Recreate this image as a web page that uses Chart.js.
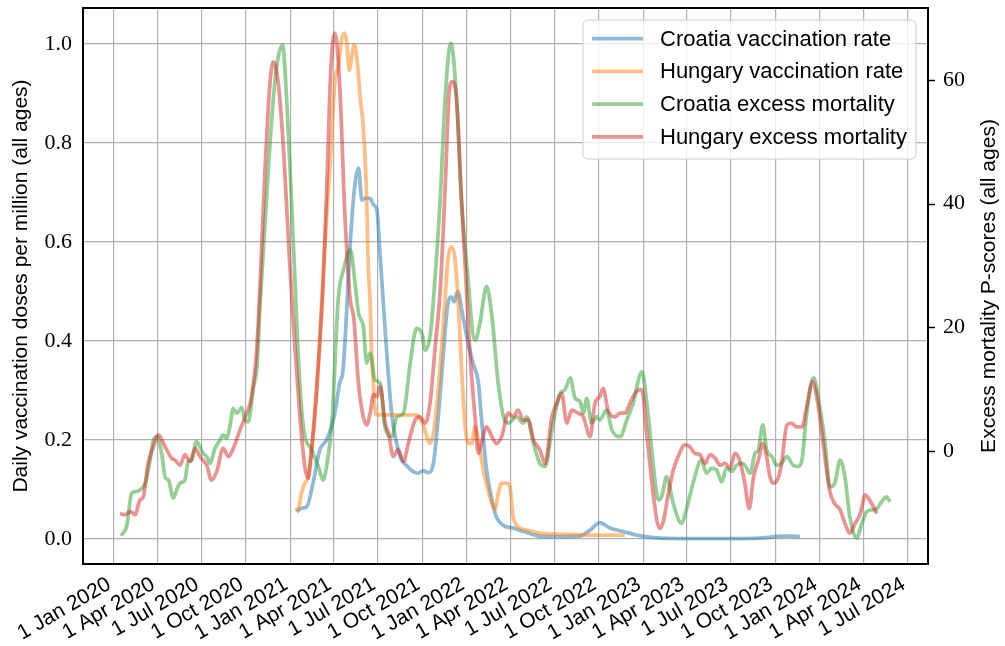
<!DOCTYPE html>
<html><head><meta charset="utf-8">
<script src="https://cdn.jsdelivr.net/npm/chart.js@4/dist/chart.umd.min.js"></script>
<style>html,body{margin:0;padding:0;background:#fff}#wrap{width:1005px;height:646px}</style>
</head><body><div id="wrap"><canvas id="c" width="1005" height="646"></canvas></div>
<script>
// ---------- data ----------
const tickDates = ['2020-01-01','2020-04-01','2020-07-01','2020-10-01','2021-01-01','2021-04-01','2021-07-01','2021-10-01','2022-01-01','2022-04-01','2022-07-01','2022-10-01','2023-01-01','2023-04-01','2023-07-01','2023-10-01','2024-01-01','2024-04-01','2024-07-01'];
const tickLabels = ['1 Jan 2020','1 Apr 2020','1 Jul 2020','1 Oct 2020','1 Jan 2021','1 Apr 2021','1 Jul 2021','1 Oct 2021','1 Jan 2022','1 Apr 2022','1 Jul 2022','1 Oct 2022','1 Jan 2023','1 Apr 2023','1 Jul 2023','1 Oct 2023','1 Jan 2024','1 Apr 2024','1 Jul 2024'];
const leftTicks = [0, 0.2, 0.4, 0.6, 0.8, 1.0];
const rightTicks = [0, 20, 40, 60];
const seriesNames = ['Croatia vaccination rate','Hungary vaccination rate','Croatia excess mortality','Hungary excess mortality'];

const hrVaxDates = ['2021-01-14','2021-01-24','2021-02-04','2021-02-17','2021-03-03','2021-03-17','2021-03-28','2021-04-03','2021-04-13','2021-04-20','2021-04-27','2021-05-04','2021-05-15','2021-05-22','2021-05-29','2021-06-04','2021-06-15','2021-06-22','2021-06-29','2021-07-06','2021-07-12','2021-07-19','2021-07-30','2021-08-09','2021-08-19','2021-08-29','2021-09-12','2021-09-22','2021-10-03','2021-10-13','2021-10-24','2021-11-03','2021-11-13','2021-11-23','2021-11-30','2021-12-06','2021-12-13','2021-12-24','2022-01-04','2022-01-14','2022-01-25','2022-01-31','2022-02-11','2022-02-22','2022-03-03','2022-03-17','2022-04-07','2022-05-05','2022-06-01','2022-07-13','2022-08-23','2022-09-13','2022-10-03','2022-10-24','2022-11-21','2022-12-18','2023-01-22','2023-04-07','2023-07-20','2023-09-13','2023-10-10','2023-10-31','2023-11-21'];
const hrVaxValues = [0.055,0.062,0.065,0.113,0.180,0.200,0.230,0.254,0.315,0.341,0.449,0.584,0.719,0.749,0.685,0.688,0.688,0.675,0.665,0.570,0.483,0.382,0.250,0.193,0.160,0.149,0.136,0.133,0.138,0.134,0.153,0.247,0.368,0.476,0.489,0.479,0.500,0.449,0.395,0.355,0.315,0.247,0.139,0.079,0.045,0.028,0.022,0.013,0.006,0.005,0.006,0.018,0.033,0.022,0.015,0.008,0.003,0.001,0.001,0.003,0.006,0.006,0.005];

const huVaxDates = ['2021-01-11','2021-01-18','2021-01-24','2021-01-31','2021-02-07','2021-02-14','2021-02-21','2021-02-28','2021-03-07','2021-03-17','2021-03-24','2021-04-03','2021-04-10','2021-04-17','2021-04-23','2021-04-28','2021-05-03','2021-05-08','2021-05-13','2021-05-19','2021-05-26','2021-06-01','2021-06-08','2021-06-11','2021-06-15','2021-06-18','2021-06-22','2021-06-27','2021-07-19','2021-08-23','2021-09-19','2021-10-03','2021-10-17','2021-10-27','2021-11-07','2021-11-17','2021-11-23','2021-11-30','2021-12-07','2021-12-14','2021-12-21','2021-12-28','2022-01-04','2022-01-11','2022-01-18','2022-01-28','2022-02-07','2022-02-22','2022-02-28','2022-03-07','2022-03-14','2022-03-24','2022-03-31','2022-04-07','2022-04-17','2022-05-05','2022-06-01','2022-07-13','2022-09-19','2022-11-24'];
const huVaxValues = [0.059,0.062,0.092,0.113,0.126,0.180,0.247,0.348,0.483,0.651,0.752,0.921,0.954,1.008,1.022,1.001,0.947,0.974,0.998,0.968,0.887,0.833,0.685,0.560,0.480,0.380,0.310,0.251,0.251,0.251,0.251,0.230,0.193,0.234,0.348,0.483,0.564,0.590,0.570,0.483,0.348,0.234,0.193,0.193,0.227,0.180,0.126,0.072,0.059,0.092,0.113,0.113,0.106,0.045,0.025,0.018,0.012,0.010,0.008,0.008];

const hrMortDates = ['2020-01-17','2020-01-29','2020-02-08','2020-02-15','2020-02-25','2020-03-07','2020-03-17','2020-03-24','2020-03-31','2020-04-10','2020-04-17','2020-04-24','2020-05-04','2020-05-11','2020-05-18','2020-05-28','2020-06-04','2020-06-11','2020-06-21','2020-06-28','2020-07-05','2020-07-12','2020-07-19','2020-07-29','2020-08-09','2020-08-15','2020-08-22','2020-08-29','2020-09-05','2020-09-12','2020-09-23','2020-09-29','2020-10-06','2020-10-17','2020-10-24','2020-10-30','2020-11-10','2020-11-20','2020-12-02','2020-12-16','2020-12-25','2021-01-02','2021-01-11','2021-01-17','2021-01-28','2021-02-14','2021-02-28','2021-03-10','2021-03-18','2021-03-28','2021-04-10','2021-04-21','2021-05-05','2021-05-15','2021-05-22','2021-06-01','2021-06-08','2021-06-15','2021-06-25','2021-07-06','2021-07-16','2021-07-30','2021-08-09','2021-08-23','2021-09-06','2021-09-19','2021-09-30','2021-10-07','2021-10-17','2021-10-24','2021-11-07','2021-11-17','2021-11-29','2021-12-11','2021-12-21','2022-01-01','2022-01-18','2022-01-28','2022-02-11','2022-02-22','2022-03-07','2022-03-18','2022-03-28','2022-04-14','2022-04-28','2022-05-05','2022-05-19','2022-06-01','2022-06-12','2022-06-26','2022-07-13','2022-07-23','2022-08-03','2022-08-13','2022-08-23','2022-08-30','2022-09-06','2022-09-16','2022-09-27','2022-10-03','2022-10-17','2022-10-28','2022-11-14','2022-11-28','2022-12-11','2022-12-29','2023-01-08','2023-01-22','2023-02-01','2023-02-08','2023-02-18','2023-03-04','2023-03-21','2023-03-31','2023-04-14','2023-05-01','2023-05-12','2023-05-22','2023-06-02','2023-06-12','2023-06-22','2023-07-03','2023-07-13','2023-07-24','2023-07-30','2023-08-10','2023-08-20','2023-08-27','2023-09-05','2023-09-13','2023-09-24','2023-10-04','2023-10-14','2023-10-25','2023-11-07','2023-11-18','2023-11-25','2023-12-05','2023-12-19','2024-01-02','2024-01-12','2024-01-22','2024-02-01','2024-02-12','2024-02-22','2024-03-03','2024-03-17','2024-03-28','2024-04-07','2024-04-21','2024-04-28','2024-05-08','2024-05-18','2024-05-25'];
const hrMortValues = [-13.7,-12.0,-6.8,-6.6,-6.3,-5.2,-1.5,1.8,2.3,-0.4,-4.2,-4.7,-7.6,-6.3,-5.2,-4.7,-1.7,-1.5,1.5,0.7,-0.4,-0.9,-2.0,0.4,1.8,2.6,2.1,3.9,6.9,6.1,7.0,5.0,4.7,10.4,13.6,23,37,49.7,61,65.6,56,43,27,16,3.9,0.2,-2.5,-4.7,-2,4.5,24.4,29.3,32.5,27.1,22.3,20.1,14.2,15.8,11.5,10.9,3.9,2.3,5.5,6.1,14.2,19.8,19.0,16.3,18.5,24.4,40.6,56.7,65.9,56.7,40.6,30,17.9,20.6,26.6,21.7,10.9,5.5,4.5,5.5,4.5,5.5,1.2,-2.0,-2.5,3.4,9.3,9.9,11.8,8.5,8.0,6.1,8.5,4.5,5.5,5.0,6.6,3.4,2.3,5.0,7.7,12.8,8,-2.5,-7.9,-7.4,-4.2,-8.5,-11.7,-9.5,-5.2,-1.5,-3.6,-2.8,-3.1,-5.0,-2.8,-3.3,-2.3,-2.0,-2.3,-3.6,-0.4,0.2,4.2,0.2,-0.9,-2.3,-2.0,-0.9,-2.3,-2.5,-1.5,6.1,11.8,6.6,1.2,-5.8,-5.2,-1.5,-4.2,-10.6,-14.1,-11.7,-9.8,-9.5,-9.3,-8.2,-7.4,-8.2];

const huMortDates = ['2020-01-15','2020-01-25','2020-02-05','2020-02-15','2020-02-25','2020-03-03','2020-03-13','2020-03-24','2020-04-03','2020-04-17','2020-05-01','2020-05-08','2020-05-18','2020-05-28','2020-06-08','2020-06-18','2020-06-28','2020-07-12','2020-07-22','2020-08-02','2020-08-15','2020-08-26','2020-09-05','2020-09-19','2020-10-03','2020-10-13','2020-10-24','2020-10-30','2020-11-10','2020-11-20','2020-11-27','2020-12-07','2020-12-18','2020-12-31','2021-01-11','2021-01-21','2021-01-31','2021-02-07','2021-02-14','2021-02-25','2021-03-10','2021-03-18','2021-03-26','2021-04-03','2021-04-13','2021-04-24','2021-05-05','2021-05-12','2021-05-22','2021-06-01','2021-06-08','2021-06-15','2021-06-22','2021-06-29','2021-07-06','2021-07-16','2021-07-23','2021-08-02','2021-08-12','2021-08-23','2021-09-02','2021-09-16','2021-09-26','2021-10-07','2021-10-17','2021-10-27','2021-11-07','2021-11-17','2021-11-26','2021-12-02','2021-12-11','2021-12-21','2021-12-30','2022-01-07','2022-01-18','2022-01-25','2022-01-31','2022-02-11','2022-02-22','2022-03-03','2022-03-14','2022-03-28','2022-04-07','2022-04-17','2022-04-28','2022-05-08','2022-05-19','2022-06-01','2022-06-12','2022-06-26','2022-07-06','2022-07-16','2022-07-27','2022-08-06','2022-08-19','2022-08-30','2022-09-13','2022-09-23','2022-10-03','2022-10-10','2022-10-20','2022-11-03','2022-11-14','2022-11-24','2022-12-04','2022-12-18','2022-12-29','2023-01-08','2023-01-19','2023-01-29','2023-02-05','2023-02-12','2023-02-22','2023-03-04','2023-03-14','2023-03-28','2023-04-07','2023-04-18','2023-04-28','2023-05-09','2023-05-19','2023-05-30','2023-06-09','2023-06-19','2023-06-29','2023-07-10','2023-07-20','2023-07-30','2023-08-08','2023-08-17','2023-08-27','2023-09-05','2023-09-13','2023-09-20','2023-09-27','2023-10-07','2023-10-14','2023-10-25','2023-11-04','2023-11-14','2023-11-25','2023-12-05','2023-12-17','2023-12-28','2024-01-08','2024-01-22','2024-02-01','2024-02-12','2024-02-22','2024-03-03','2024-03-14','2024-03-25','2024-04-04','2024-04-15','2024-04-28'];
const huMortValues = [-10.1,-10.3,-9.8,-10.3,-7.9,-7.4,-2.0,0.7,2.6,0.7,-1.2,-1.5,-2.3,-0.6,-1.7,0.4,-0.9,-2.3,-4.7,-3.3,0.4,-0.9,0.4,3.4,6.1,8.8,16.9,26,46,59.5,62.9,59.5,48.7,30,16.3,5.5,-2.5,-4.4,0.2,10.9,27,44,62,67.5,59.5,38,24.4,21.7,10.9,5.5,4.2,6.1,9.1,8.8,10.4,4.5,2.9,-0.9,0.2,-1.7,1.2,5.0,5.5,4.5,7.7,16.3,26,42,58.4,59.7,56.7,40.6,28,16.3,5.5,-0.4,1.2,3.9,2.3,1.2,2.3,6.1,5.5,6.6,5.0,5.0,1.8,0.2,-2.0,5.5,7.7,9.3,4.5,6.6,6.1,5.5,2.3,7.7,8.8,10.1,6.6,5.5,6.1,6.1,7.7,9.6,9.9,2.9,-5.2,-11.2,-12.5,-11.2,-6.8,-3.1,-0.9,1.0,0.7,-0.4,-0.6,-2.0,-0.6,-1.2,-2.3,-2.0,-2.8,-0.4,-1.7,-5.2,-9.3,-4.2,-1.5,1.2,-0.9,-4.2,-5.2,-4.4,-2.0,4.2,4.5,3.9,3.9,7.2,11.2,7.7,1.2,-6.6,-8.5,-9.5,-11.7,-13.3,-11.7,-10.1,-7.1,-8.2,-10.1];

// ---------- helpers ----------
const EPOCH = Date.UTC(2020, 0, 1);
function toDay(s) { const [y, m, d] = s.split('-').map(Number); return (Date.UTC(y, m - 1, d) - EPOCH) / 86400000; }
function pts(dates, vals) { return dates.map((d, i) => ({ x: toDay(d), y: vals[i] })); }

const colors = ['rgba(31,119,180,0.5)', 'rgba(255,127,14,0.5)', 'rgba(44,160,44,0.5)', 'rgba(214,39,40,0.5)'];
const SANS = "'Liberation Sans', Arial, sans-serif";
const SERIF = "'Liberation Serif', 'DejaVu Serif', serif";
const LW = 3.75;

function ds(i, dates, vals, axis, order) {
  return { label: seriesNames[i], data: pts(dates, vals), yAxisID: axis, order: order,
    borderColor: colors[i], backgroundColor: colors[i], borderWidth: LW, pointRadius: 0,
    cubicInterpolationMode: 'monotone', borderJoinStyle: 'round', borderCapStyle: 'butt', fill: false };
}

const framePlugin = {
  id: 'frame',
  afterDatasetsDraw(chart) {
    const { ctx, chartArea: a } = chart;
    const yR = chart.scales.yR;
    ctx.save();
    ctx.strokeStyle = '#000'; ctx.lineWidth = 2;
    ctx.strokeRect(a.left, a.top, a.right - a.left, a.bottom - a.top);
    ctx.lineWidth = 1.5;
    rightTicks.forEach(v => {
      const py = Math.round(yR.getPixelForValue(v)) + 0.5;
      ctx.beginPath(); ctx.moveTo(a.right, py); ctx.lineTo(a.right + 7, py); ctx.stroke();
    });
    ctx.restore();
  }
};

const legendPlugin = {
  id: 'boxLegend',
  afterDraw(chart) {
    const { ctx, chartArea: a } = chart;
    const x = a.right - 12, w = 333, y = a.top + 12, h = 139;
    const left = x - w;
    ctx.save();
    ctx.beginPath();
    ctx.roundRect(left, y, w, h, 5);
    ctx.fillStyle = 'rgba(255,255,255,0.8)';
    ctx.fill();
    ctx.strokeStyle = '#cccccc'; ctx.lineWidth = 1;
    ctx.stroke();
    ctx.font = '22px ' + SANS;
    ctx.textBaseline = 'middle';
    ctx.textAlign = 'left';
    const rows = [18.5, 51.3, 84.1, 116.9];
    seriesNames.forEach((name, i) => {
      const ry = y + rows[i];
      ctx.beginPath();
      ctx.moveTo(left + 9, ry); ctx.lineTo(left + 60, ry);
      ctx.strokeStyle = colors[i]; ctx.lineWidth = LW; ctx.lineCap = 'butt';
      ctx.stroke();
      ctx.fillStyle = '#000';
      ctx.fillText(name, left + 77, ry + 1);
    });
    ctx.restore();
  }
};

const rightTitlePlugin = {
  id: 'rightTitle',
  afterDraw(chart) {
    const { ctx, chartArea: a } = chart;
    ctx.save();
    ctx.translate(989, (a.top + a.bottom) / 2);
    ctx.rotate(-Math.PI / 2);
    ctx.font = '21px ' + SANS;
    ctx.fillStyle = '#000';
    ctx.textAlign = 'center';
    ctx.textBaseline = 'middle';
    ctx.fillText('Excess mortality P-scores (all ages)', 0, 0);
    ctx.restore();
  }
};

function noPadV(s, w) { s.width = w; s.paddingTop = 0; s.paddingBottom = 0; }

new Chart(document.getElementById('c'), {
  type: 'line',
  data: {
    datasets: [
      ds(0, hrVaxDates, hrVaxValues, 'yL', 3),
      ds(1, huVaxDates, huVaxValues, 'yL', 2),
      ds(2, hrMortDates, hrMortValues, 'yR', 1),
      ds(3, huMortDates, huMortValues, 'yR', 0)
    ]
  },
  options: {
    responsive: false, animation: false, devicePixelRatio: 1,
    layout: { padding: { top: 8, left: 0, right: 0, bottom: 0 } },
    plugins: { legend: { display: false }, tooltip: { enabled: false } },
    scales: {
      x: {
        type: 'linear', position: 'bottom',
        min: toDay('2020-01-01') - 62.7, max: toDay('2024-07-01') + 41.8,
        afterBuildTicks: s => { s.ticks = tickDates.map(d => ({ value: toDay(d) })); },
        afterFit: s => { s.height = 82; s.paddingLeft = 0; s.paddingRight = 0; },
        grid: { color: '#b0b0b0', lineWidth: 1.2, drawTicks: false },
        border: { display: false },
        ticks: { autoSkip: false, minRotation: 30, maxRotation: 30, padding: 8, labelOffset: -4, color: '#000',
          font: { family: SANS, size: 21 }, callback: (v, i) => tickLabels[i] }
      },
      yL: {
        type: 'linear', position: 'left', min: -0.0505, max: 1.0727,
        afterBuildTicks: s => { s.ticks = leftTicks.map(v => ({ value: v })); },
        afterFit: s => noPadV(s, 83),
        grid: { color: '#b0b0b0', lineWidth: 1.2, drawTicks: false },
        border: { display: false },
        ticks: { padding: 11, color: '#000', font: { family: SERIF, size: 22 }, callback: v => v.toFixed(1) },
        title: { display: true, text: 'Daily vaccination doses per million (all ages)', color: '#000',
          font: { family: SANS, size: 21 }, padding: { top: 9, bottom: 0 } }
      },
      yR: {
        type: 'linear', position: 'right', min: -18.27, max: 71.6,
        afterBuildTicks: s => { s.ticks = rightTicks.map(v => ({ value: v })); },
        afterFit: s => noPadV(s, 77),
        grid: { display: false, drawOnChartArea: false, drawTicks: false },
        border: { display: false },
        ticks: { padding: 15, color: '#000', font: { family: SERIF, size: 22 }, callback: v => String(v) }
      }
    }
  },
  plugins: [framePlugin, legendPlugin, rightTitlePlugin]
});
</script>
</body></html>
